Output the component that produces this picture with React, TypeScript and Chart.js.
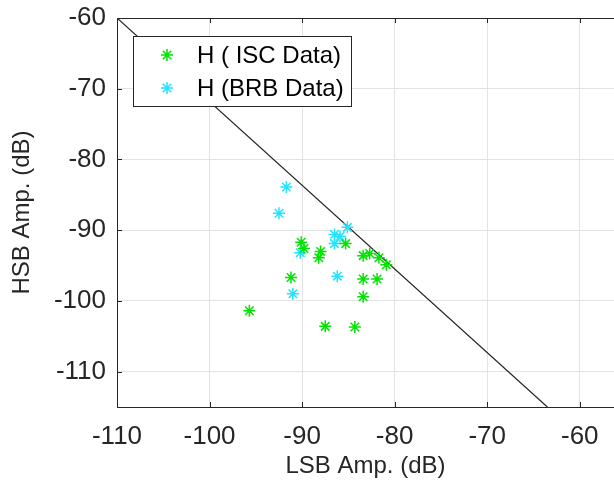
import React, { useEffect, useRef } from "react";
import Chart from "chart.js/auto";

const iscX = [-90.1, -89.8, -88.0, -88.2, -85.3, -83.4, -82.7, -81.7, -80.9, -91.2, -83.4, -81.9, -83.4, -95.7, -87.5, -84.3];
const iscY = [-91.7, -92.6, -93.0, -93.9, -91.9, -93.6, -93.3, -93.9, -94.9, -96.7, -96.9, -96.9, -99.4, -101.4, -103.6, -103.7];
const brbX = [-91.7, -92.5, -85.1, -86.5, -85.9, -86.5, -90.2, -86.2, -91.0];
const brbY = [-83.9, -87.6, -89.6, -90.6, -90.9, -91.9, -93.2, -96.5, -99.0];
const boundX = [-110, -63.5];
const boundY = [-60, -115];
const xTicks = [-110, -100, -90, -80, -70, -60];
const yTicks = [-110, -100, -90, -80, -70, -60];
const legendLabels = ["H ( ISC Data)", "H (BRB Data)"];

const GREEN = "#00e400";
const CYAN = "#22e4ff";
const TEXT = "#262626";
const FONT = "'Liberation Sans', Arial, sans-serif";

function drawStar(ctx: CanvasRenderingContext2D, x: number, y: number, r: number, color: string) {
  ctx.save();
  ctx.strokeStyle = color;
  ctx.lineWidth = 1.5;
  ctx.beginPath();
  for (let i = 0; i < 4; i++) {
    const a = (i * Math.PI) / 4;
    ctx.moveTo(x - r * Math.cos(a), y - r * Math.sin(a));
    ctx.lineTo(x + r * Math.cos(a), y + r * Math.sin(a));
  }
  ctx.stroke();
  ctx.restore();
}

export default function App() {
  const ref = useRef<HTMLCanvasElement>(null);
  useEffect(() => {
    document.body.style.margin = "0";
    const frame = {
      id: "frame",
      afterDatasetsDraw(chart: any) {
        const { ctx, chartArea } = chart;
        const xs = chart.scales.x;
        const ys = chart.scales.y;
        ctx.save();
        ctx.strokeStyle = TEXT;
        ctx.lineWidth = 1;
        ctx.beginPath();
        ctx.moveTo(chartArea.left + 0.5, chartArea.bottom + 0.5);
        ctx.lineTo(chartArea.left + 0.5, chartArea.top + 0.5);
        ctx.lineTo(chartArea.right, chartArea.top + 0.5);
        ctx.moveTo(chartArea.left, chartArea.bottom + 0.5);
        ctx.lineTo(chartArea.right, chartArea.bottom + 0.5);
        for (const v of xTicks) {
          const px = Math.round(xs.getPixelForValue(v)) + 0.5;
          ctx.moveTo(px, chartArea.bottom);
          ctx.lineTo(px, chartArea.bottom - 5);
          ctx.moveTo(px, chartArea.top);
          ctx.lineTo(px, chartArea.top + 5);
        }
        for (const v of yTicks) {
          const py = Math.round(ys.getPixelForValue(v)) + 0.5;
          ctx.moveTo(chartArea.left, py);
          ctx.lineTo(chartArea.left + 5, py);
        }
        ctx.stroke();

        // legend
        const lx = 133, ly = 36, lw = 218, lh = 70;
        ctx.fillStyle = "#ffffff";
        ctx.fillRect(lx, ly, lw, lh);
        ctx.strokeRect(lx + 0.5, ly + 0.5, lw, lh);
        const colors = [GREEN, CYAN];
        const rowsY = [55, 88];
        ctx.font = `24px ${FONT}`;
        ctx.textBaseline = "middle";
        ctx.textAlign = "left";
        legendLabels.forEach((t, i) => {
          drawStar(ctx, 167, rowsY[i], 6, colors[i]);
          ctx.fillStyle = "#000000";
          ctx.fillText(t, 197, rowsY[i] + 1);
        });
        ctx.restore();
      },
    };
    const chart = new Chart(ref.current!, {
      type: "scatter",
      data: {
        datasets: [
          {
            label: legendLabels[0],
            data: iscX.map((x, i) => ({ x, y: iscY[i] })),
            pointStyle: "star",
            radius: 6,
            borderColor: GREEN,
            backgroundColor: GREEN,
            borderWidth: 1.5,
          },
          {
            label: legendLabels[1],
            data: brbX.map((x, i) => ({ x, y: brbY[i] })),
            pointStyle: "star",
            radius: 6,
            borderColor: CYAN,
            backgroundColor: CYAN,
            borderWidth: 1.5,
          },
          {
            type: "line",
            label: "bound",
            data: boundX.map((x, i) => ({ x, y: boundY[i] })),
            borderColor: "#222222",
            borderWidth: 1.2,
            pointRadius: 0,
            showLine: true,
            fill: false,
          } as any,
        ],
      },
      options: {
        responsive: false,
        animation: false,
        layout: { autoPadding: false, padding: { top: 18, left: 0, right: 0, bottom: 0 } },
        plugins: { legend: { display: false }, tooltip: { enabled: false } },
        scales: {
          x: {
            type: "linear",
            min: -110,
            max: -56.3,
            afterBuildTicks: (s: any) => {
              s.ticks = xTicks.map((v) => ({ value: v }));
            },
            afterFit: (s: any) => {
              s.height = 79;
              s.paddingLeft = 0;
              s.paddingRight = 0;
            },
            grid: { color: "#e3e3e3", drawTicks: false },
            border: { display: false },
            ticks: { font: { size: 26, family: FONT }, color: TEXT, padding: 14, maxRotation: 0, autoSkip: false },
            title: {
              display: true,
              text: "LSB Amp. (dB)",
              font: { size: 24, family: FONT },
              color: TEXT,
              padding: { top: 0, bottom: 5 },
            },
          },
          y: {
            type: "linear",
            min: -115,
            max: -60,
            afterBuildTicks: (s: any) => {
              s.ticks = yTicks.map((v) => ({ value: v }));
            },
            afterFit: (s: any) => {
              s.width = 117;
              s.paddingTop = 0;
              s.paddingBottom = 0;
            },
            grid: { color: "#e3e3e3", drawTicks: false },
            border: { display: false },
            ticks: { font: { size: 26, family: FONT }, color: TEXT, padding: 11, autoSkip: false },
            title: {
              display: true,
              text: "HSB Amp. (dB)",
              font: { size: 24, family: FONT },
              color: TEXT,
              padding: { top: 8, bottom: 0 },
            },
          },
        },
      },
      plugins: [frame],
    });
    return () => chart.destroy();
  }, []);
  return (
    <canvas
      ref={ref}
      width={614}
      height={486}
      style={{ position: "absolute", left: 0, top: 0, width: 614, height: 486 }}
    />
  );
}
